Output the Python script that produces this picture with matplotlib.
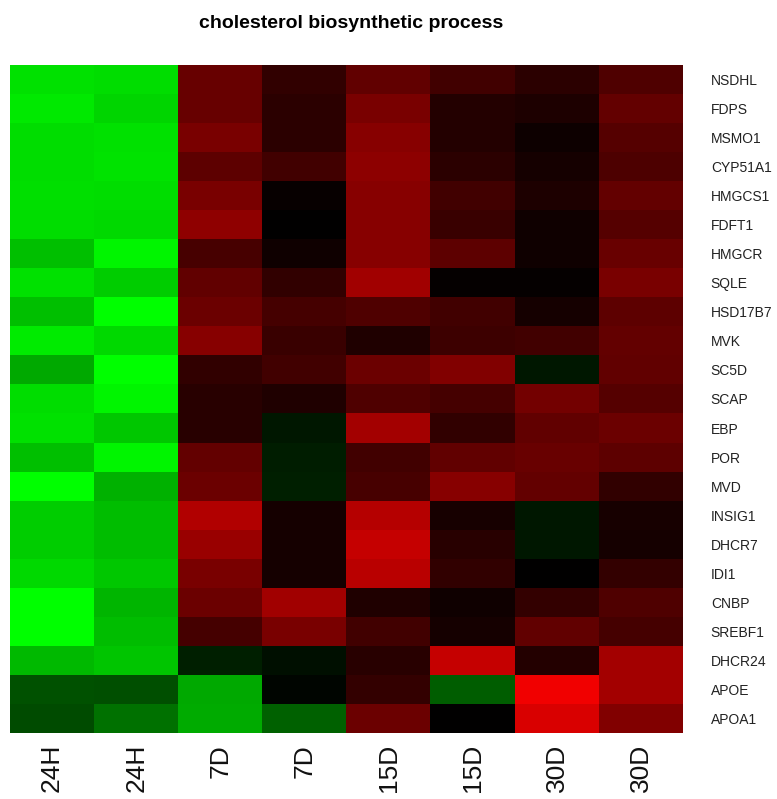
import matplotlib
matplotlib.use("Agg")
import matplotlib.pyplot as plt
import numpy as np
from matplotlib.colors import LinearSegmentedColormap

plt.rcParams['font.family'] = ['Liberation Sans', 'DejaVu Sans']

genes = ['NSDHL', 'FDPS', 'MSMO1', 'CYP51A1', 'HMGCS1', 'FDFT1', 'HMGCR', 'SQLE',
         'HSD17B7', 'MVK', 'SC5D', 'SCAP', 'EBP', 'POR', 'MVD', 'INSIG1', 'DHCR7',
         'IDI1', 'CNBP', 'SREBF1', 'DHCR24', 'APOE', 'APOA1']
samples = ['24H', '24H', '7D', '7D', '15D', '15D', '30D', '30D']

# one list per sample column, values read top to bottom (neg = green, pos = red)
h24_a = [-0.88, -0.91, -0.86, -0.86, -0.87, -0.86, -0.75, -0.88, -0.75, -0.92, -0.66, -0.86,
         -0.88, -0.75, -1.00, -0.80, -0.80, -0.85, -1.00, -1.00, -0.72, -0.32, -0.29]
h24_b = [-0.86, -0.83, -0.88, -0.89, -0.86, -0.85, -0.96, -0.80, -1.00, -0.85, -1.00, -0.96,
         -0.78, -0.96, -0.69, -0.74, -0.74, -0.78, -0.71, -0.74, -0.77, -0.31, -0.44]
d7_a = [0.40, 0.40, 0.47, 0.36, 0.47, 0.56, 0.28, 0.38, 0.42, 0.53, 0.19, 0.16,
        0.16, 0.39, 0.42, 0.69, 0.60, 0.47, 0.42, 0.27, -0.12, -0.66, -0.67]
d7_b = [0.19, 0.17, 0.17, 0.25, 0.03, 0.00, 0.06, 0.19, 0.27, 0.22, 0.25, 0.12,
        -0.09, -0.11, -0.12, 0.08, 0.08, 0.08, 0.63, 0.47, -0.06, -0.02, -0.38]
d15_a = [0.38, 0.47, 0.53, 0.55, 0.53, 0.53, 0.53, 0.63, 0.31, 0.12, 0.42, 0.31,
         0.64, 0.25, 0.28, 0.71, 0.77, 0.72, 0.12, 0.25, 0.16, 0.20, 0.42]
d15_b = [0.25, 0.14, 0.14, 0.17, 0.25, 0.22, 0.36, 0.02, 0.25, 0.24, 0.50, 0.27,
         0.19, 0.38, 0.53, 0.09, 0.16, 0.19, 0.06, 0.08, 0.77, -0.36, 0.00]
d30_a = [0.17, 0.11, 0.05, 0.08, 0.11, 0.06, 0.06, 0.02, 0.08, 0.25, -0.09, 0.45,
         0.38, 0.41, 0.39, -0.09, -0.09, 0.00, 0.20, 0.38, 0.14, 0.94, 0.85]
d30_b = [0.31, 0.39, 0.33, 0.30, 0.39, 0.33, 0.41, 0.47, 0.36, 0.39, 0.38, 0.33,
         0.42, 0.36, 0.19, 0.09, 0.08, 0.20, 0.31, 0.27, 0.64, 0.64, 0.50]

data = np.array([h24_a, h24_b, d7_a, d7_b, d15_a, d15_b, d30_a, d30_b]).T

cmap = LinearSegmentedColormap.from_list('gkr', ['#00ff00', '#000000', '#ff0000'])

fig = plt.figure(figsize=(7.77, 7.99), dpi=100)
ax = fig.add_axes([10/777, 1 - 733/799, 673/777, 668/799])
ax.imshow(data, cmap=cmap, vmin=-1, vmax=1, aspect='auto', interpolation='nearest')

ax.set_xticks(np.arange(len(samples)))
ax.set_xticklabels(samples, rotation=90, fontsize=19, va='top', color='#111111')
ax.set_yticks(np.arange(len(genes)))
ax.set_yticklabels(genes, fontsize=10, color='#222222')
ax.yaxis.tick_right()
ax.tick_params(axis='y', length=0, pad=20)
ax.tick_params(axis='x', length=0, pad=8)
for s in ax.spines.values():
    s.set_visible(False)

fig.text(351/777, 1 - 23/799, 'cholesterol biosynthetic process', ha='center', va='center',
         fontsize=14, fontweight='bold')

fig.savefig('out.png', dpi=100)
